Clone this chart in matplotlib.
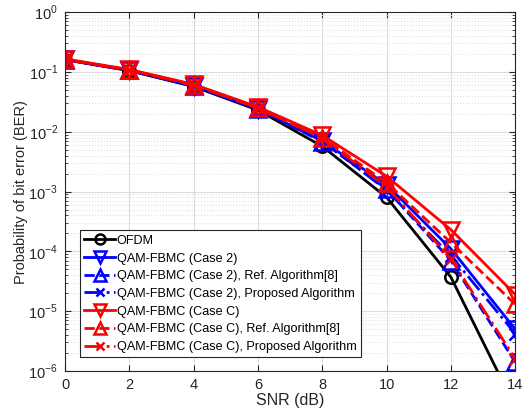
import matplotlib
matplotlib.use("Agg")
import matplotlib.pyplot as plt
import numpy as np

plt.rcParams['font.family'] = ['Liberation Sans', 'DejaVu Sans']
plt.rcParams['mathtext.fontset'] = 'custom'
plt.rcParams['mathtext.rm'] = 'Liberation Sans'

# SNR axis
snr = [0, 2, 4, 6, 8, 10, 12, 14]

# BER values
ber_ofdm = [0.160, 0.105, 0.057, 0.023, 0.0057, 8.0e-4, 3.7e-5, 2.5e-7]
ber_case2 = [0.162, 0.107, 0.059, 0.024, 0.0070, 1.3e-3, 1.1e-4, 5.0e-6]
ber_case2_ref = [0.161, 0.106, 0.058, 0.024, 0.0068, 1.1e-3, 7.0e-5, 1.4e-6]
ber_case2_prop = [0.161, 0.106, 0.058, 0.024, 0.0072, 1.05e-3, 8.5e-5, 4.2e-6]
ber_caseC = [0.165, 0.110, 0.062, 0.026, 0.0087, 1.8e-3, 2.3e-4, 1.9e-5]
ber_caseC_ref = [0.163, 0.108, 0.061, 0.025, 0.0080, 1.4e-3, 1.4e-4, 1.3e-5]
ber_caseC_prop = [0.162, 0.107, 0.060, 0.025, 0.0078, 1.2e-3, 7.5e-5, 1.6e-6]

labels = ["OFDM",
          "QAM-FBMC (Case 2)",
          "QAM-FBMC (Case 2), Ref. Algorithm[8]",
          "QAM-FBMC (Case 2), Proposed Algorithm",
          "QAM-FBMC (Case C)",
          "QAM-FBMC (Case C), Ref. Algorithm[8]",
          "QAM-FBMC (Case C), Proposed Algorithm"]

series = [ber_ofdm, ber_case2, ber_case2_ref, ber_case2_prop,
          ber_caseC, ber_caseC_ref, ber_caseC_prop]
colors = ["black", "#0000ff", "#0000ff", "#0000ff", "#ff0000", "#ff0000", "#ff0000"]
styles = ["-", "-", "--", "-.", "-", "--", "-."]
markers = ["o", "v", "^", "x", "v", "^", "x"]
msizes = [9, 11, 11, 8, 11, 11, 8]

fig = plt.figure(figsize=(5.29, 4.12), dpi=100)
ax = fig.add_axes([0.123, 0.0995, 0.851, 0.871])

for y, lab, c, ls, m, ms in zip(series, labels, colors, styles, markers, msizes):
    ax.semilogy(snr, y, color=c, linestyle=ls, marker=m, markersize=ms,
                markerfacecolor="none", markeredgewidth=1.8, linewidth=2.0,
                label=lab)

ax.set_xlim(0, 14)
ax.set_ylim(1e-6, 1e0)
ax.set_xticks(snr)
ax.set_yticks([1e-6, 1e-5, 1e-4, 1e-3, 1e-2, 1e-1, 1e0])
ax.set_yticklabels([r"$10^{-6}$", r"$10^{-5}$", r"$10^{-4}$", r"$10^{-3}$",
                    r"$10^{-2}$", r"$10^{-1}$", r"$10^{0}$"])

ax.grid(True, which="major", color="#dcdcdc", linewidth=0.8)
ax.grid(True, which="minor", axis="y", color="#e2e2e2", linestyle=":", linewidth=0.8)
ax.set_axisbelow(True)

ax.tick_params(which="both", direction="in", colors="#262626", labelsize=10.5,
               top=True, right=True)
ax.tick_params(which="major", length=4, pad=5)
ax.tick_params(which="minor", length=2)
for s in ax.spines.values():
    s.set_color("#262626")
    s.set_linewidth(0.8)

ax.set_xlabel("SNR (dB)", fontsize=11.5, color="#262626", labelpad=1)
ax.set_ylabel("Probability of bit error (BER)", fontsize=10.5, color="#262626", labelpad=0)

leg = ax.legend(loc="lower left", bbox_to_anchor=(0.033, 0.038), fontsize=9.1,
                frameon=True, fancybox=False, framealpha=1, edgecolor="#262626",
                handlelength=2.4, handletextpad=0.15, borderpad=0.35,
                labelspacing=0.45, borderaxespad=0, markerscale=0.8)
leg.get_frame().set_linewidth(0.8)

fig.savefig("out.png", dpi=100)
